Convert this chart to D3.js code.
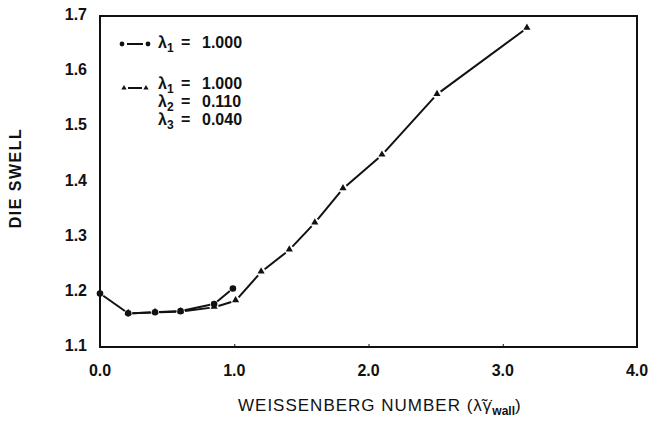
<!DOCTYPE html>
<html>
<head>
<meta charset="utf-8">
<script src="https://cdn.jsdelivr.net/npm/d3@7"></script>
<style>
  body { margin: 0; background: #fff; }
  text { font-family: "Liberation Sans", Arial, sans-serif; fill: #111; }
</style>
</head>
<body>
<svg id="chart"></svg>
<script>
// values
const xTicks = [0, 1, 2, 3, 4];
const yTicks = [1.1, 1.2, 1.3, 1.4, 1.5, 1.6, 1.7];

const oneModeX = [0, 0.21, 0.41, 0.6, 0.85, 0.99];
const oneModeY = [1.197, 1.161, 1.163, 1.165, 1.178, 1.206];

const threeModeX = [0.21, 0.41, 0.6, 0.85, 1.01, 1.2, 1.41, 1.6, 1.81, 2.1, 2.51, 3.18];
const threeModeY = [1.161, 1.163, 1.164, 1.172, 1.184, 1.236, 1.276, 1.325, 1.387, 1.448, 1.558, 1.678];

const width = 648, height = 425;
const margin = {top: 16, right: 11, bottom: 78, left: 100};

const svg = d3.select('#chart')
    .attr('width', width)
    .attr('height', height);

const x = d3.scaleLinear().domain([0, 4]).range([margin.left, width - margin.right]);
const y = d3.scaleLinear().domain([1.1, 1.7]).range([height - margin.bottom, margin.top]);

// frame
svg.append('rect')
    .attr('x', x(0)).attr('y', y(1.7))
    .attr('width', x(4) - x(0)).attr('height', y(1.1) - y(1.7))
    .attr('fill', 'none').attr('stroke', '#111').attr('stroke-width', 2);

// small inner ticks on the bottom axis
svg.append('g')
    .attr('transform', `translate(0,${y(1.1)})`)
    .call(d3.axisTop(x).tickValues([1, 2, 3]).tickSize(3).tickFormat(''))
    .call(g => g.select('.domain').remove())
    .selectAll('line').attr('stroke', '#111').attr('stroke-width', 1);

// tick labels
svg.append('g').selectAll('text')
    .data(xTicks).enter().append('text')
    .attr('x', d => x(d))
    .attr('y', y(1.1) + 29)
    .attr('text-anchor', 'middle')
    .style('font-size', '16px').style('font-weight', 'bold')
    .text(d => d.toFixed(1));

svg.append('g').selectAll('text')
    .data(yTicks).enter().append('text')
    .attr('x', x(0) - 13)
    .attr('y', d => y(d) + 4)
    .attr('text-anchor', 'end')
    .style('font-size', '16px').style('font-weight', 'bold')
    .text(d => d.toFixed(1));

// axis titles
svg.append('text')
    .attr('transform', `translate(21,178) rotate(-90)`)
    .attr('text-anchor', 'middle')
    .style('font-size', '16px').style('font-weight', 'bold').style('letter-spacing', '1.5px')
    .text('DIE SWELL');

const xt = svg.append('text')
    .attr('x', 238)
    .attr('y', 411)
    .style('font-size', '17px').style('letter-spacing', '1px');
xt.append('tspan').text('WEISSENBERG NUMBER (');
xt.append('tspan').text('λ̃γ̇').style('font-size', '17px');
xt.append('tspan').text('wall').attr('dy', 4).style('font-size', '12px').style('font-weight', 'bold').style('letter-spacing', '0px');
xt.append('tspan').text(')').attr('dy', -4);

// segments with small gaps at each marker
function drawSeries(xs, ys, gap) {
    const pts = xs.map((d, i) => [x(d), y(ys[i])]);
    const segs = d3.pairs(pts).map(([a, b]) => {
        const dx = b[0] - a[0], dy = b[1] - a[1];
        const L = Math.hypot(dx, dy);
        const ux = dx / L, uy = dy / L;
        return [a[0] + ux * gap, a[1] + uy * gap, b[0] - ux * gap, b[1] - uy * gap];
    });
    svg.append('g').selectAll('line')
        .data(segs).enter().append('line')
        .attr('x1', d => d[0]).attr('y1', d => d[1])
        .attr('x2', d => d[2]).attr('y2', d => d[3])
        .attr('stroke', '#111').attr('stroke-width', 2);
    return pts;
}

const tri = d3.symbol().type(d3.symbolTriangle).size(22);

const triPts = drawSeries(threeModeX, threeModeY, 4.5);
svg.append('g').selectAll('path')
    .data(triPts).enter().append('path')
    .attr('d', tri)
    .attr('transform', d => `translate(${d[0]},${d[1] - 0.5})`)
    .attr('fill', '#111');

const circPts = drawSeries(oneModeX, oneModeY, 4);
svg.append('g').selectAll('circle')
    .data(circPts).enter().append('circle')
    .attr('cx', d => d[0]).attr('cy', d => d[1])
    .attr('r', 3.3)
    .attr('fill', '#111');

// legend
const legend = svg.append('g').attr('class', 'legend');
const lx0 = 122, lx1 = 148;

legend.append('line')
    .attr('x1', lx0 + 5).attr('x2', lx1 - 5).attr('y1', 44).attr('y2', 44)
    .attr('stroke', '#111').attr('stroke-width', 2);
legend.selectAll('circle')
    .data([lx0, lx1]).enter().append('circle')
    .attr('cx', d => d).attr('cy', 44).attr('r', 2.4).attr('fill', '#111');

legend.append('line')
    .attr('x1', lx0 + 6).attr('x2', lx1 - 6).attr('y1', 88).attr('y2', 88)
    .attr('stroke', '#111').attr('stroke-width', 2);
legend.selectAll('path')
    .data([lx0 + 2, lx1 - 2]).enter().append('path')
    .attr('d', d3.symbol().type(d3.symbolTriangle).size(12))
    .attr('transform', d => `translate(${d},88)`)
    .attr('fill', '#111');

// each piece is its own text so stacked rows keep tight like the original
const legendRows = [
    {sub: '1', val: '1.000', y: 48},
    {sub: '1', val: '1.000', y: 89},
    {sub: '2', val: '0.110', y: 107},
    {sub: '3', val: '0.040', y: 125}
];
legendRows.forEach(r => {
    const row = legend.append('g')
        .style('font-size', '16px').style('font-weight', 'bold');
    row.append('text').attr('x', 158).attr('y', r.y).text('λ');
    row.append('text').attr('x', 167).attr('y', r.y + 4).style('font-size', '12px').text(r.sub);
    row.append('text').attr('x', 181).attr('y', r.y).text('=');
    row.append('text').attr('x', 202).attr('y', r.y).text(r.val);
});
</script>
</body>
</html>
